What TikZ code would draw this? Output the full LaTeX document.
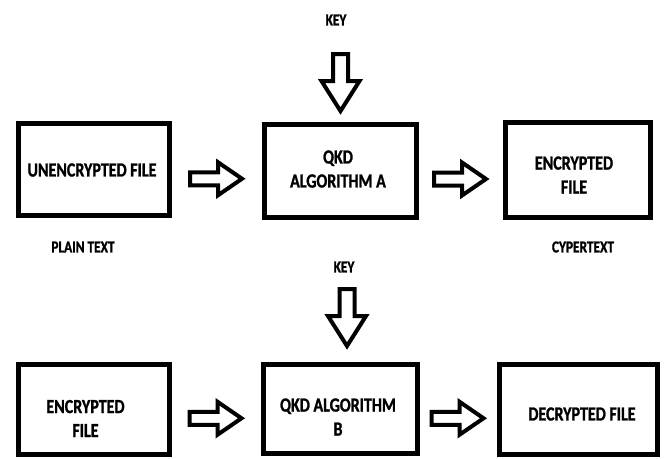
\documentclass[tikz,border=0pt]{standalone}
\usepackage{fontspec}
\usepackage{tikz}
\usetikzlibrary{calc}
\newfontfamily\calfont{Carlito}[FakeStretch=0.8, FakeBold=1.2]

\begin{document}
\begin{tikzpicture}[x=0.75pt,y=0.75pt,yscale=-1,xscale=1,
    filebox/.style={draw, line width=3.75pt, inner sep=0pt},
    boxtext/.style={font=\calfont\bfseries\fontsize{15}{18}\selectfont, align=center, inner sep=0pt},
    tagtext/.style={font=\calfont\bfseries\fontsize{12.5}{15}\selectfont, inner sep=0pt},
    fwd/.pic={\draw[line width=3pt] (-27,-6.5) -- (1,-6.5) -- (1,-16.5) -- (25,0) -- (1,16.5) -- (1,6.5) -- (-27,6.5) -- cycle;},
    keydown/.pic={\draw[line width=3pt] (-7.5,0) -- (7.5,0) -- (7.5,-27) -- (19,-27) -- (0,-57) -- (-19,-27) -- (-7.5,-27) -- cycle;}]
    \useasboundingbox (0,0) rectangle (665,458);

    %encryption: plain text -> QKD A -> cipher text
    \node[filebox, minimum width=113.25pt, minimum height=69pt] (plain) at (94,169.5) {};
    \node[filebox, minimum width=114pt, minimum height=69.75pt] (algA) at (340.5,171) {};
    \node[filebox, minimum width=108.75pt, minimum height=71.25pt] (cipher) at (578,170) {};
    \node[boxtext] (plaintxt) at (92,170) {UNENCRYPTED FILE};
    \node[boxtext] (algAtxt) at (338,169) {QKD\\ALGORITHM A};
    \node[boxtext] (ciphertxt) at (574,175) {ENCRYPTED\\FILE};
    \node[tagtext] (plaintag) at (83,247) {PLAIN TEXT};
    \node[tagtext] (ciphertag) at (583,247) {CYPERTEXT};
    \node[tagtext] (keyA) at (336,20) {KEY};
    \pic at ($(algA.north)+(0,-68)$) {keydown};
    \pic at ($(plain.east)!.5!(algA.west)+(0,8.5)$) {fwd};
    \pic at ($(algA.east)!.5!(cipher.west)+(0,8.5)$) {fwd};

    %decryption: cipher text -> QKD B -> plain text
    \node[filebox, minimum width=113.25pt, minimum height=67.5pt] (cipherB) at (94,409.5) {};
    \node[filebox, minimum width=115.5pt, minimum height=66.75pt] (algB) at (340.5,409) {};
    \node[filebox, minimum width=118.5pt, minimum height=67.5pt] (plainB) at (578.5,409.5) {};
    \node[boxtext] (cipherBtxt) at (85.5,418.5) {ENCRYPTED\\FILE};
    \node[boxtext] (algBtxt) at (338,417) {QKD ALGORITHM\\B};
    \node[boxtext] (plainBtxt) at (582,414) {DECRYPTED FILE};
    \node[tagtext] (keyB) at (344,267) {KEY};
    \pic at ($(algB.north)+(6.5,-73)$) {keydown};
    \pic at ($(cipherB.east)!.5!(algB.west)+(0,9)$) {fwd};
    \pic at ($(algB.east)!.5!(plainB.west)+(0,9)$) {fwd};
\end{tikzpicture}
\end{document}
